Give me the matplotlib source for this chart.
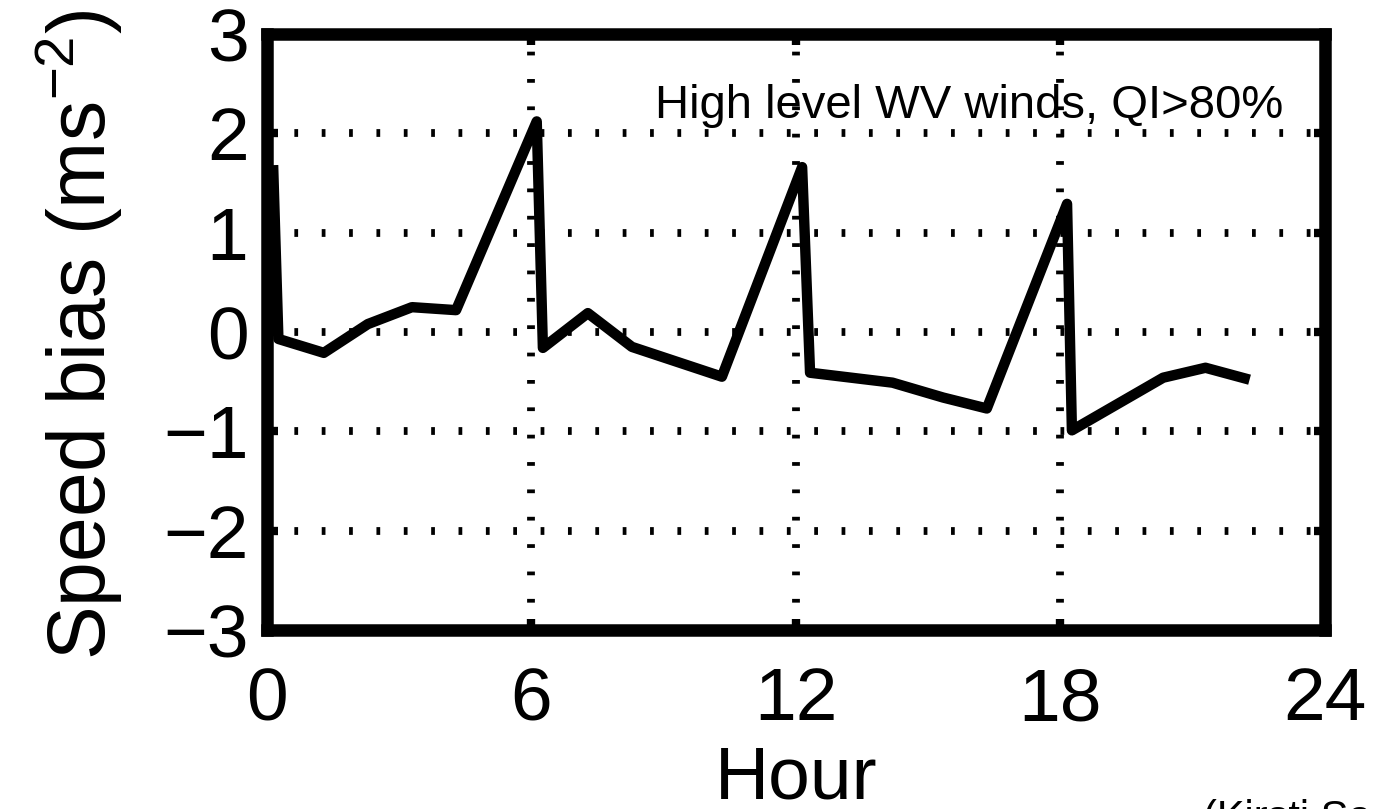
import matplotlib
matplotlib.use("Agg")
import matplotlib.pyplot as plt

# ---- data ----
hours = [0.15, 0.27, 1.3, 2.3, 3.3, 4.3, 6.13, 6.27, 7.29, 8.29, 10.33,
         12.15, 12.33, 14.2, 15.35, 16.34, 18.16, 18.27, 20.34, 21.3, 22.3]
bias = [1.68, -0.07, -0.21, 0.08, 0.25, 0.22, 2.12, -0.16, 0.19, -0.15, -0.45,
        1.66, -0.41, -0.51, -0.66, -0.77, 1.29, -0.99, -0.46, -0.36, -0.48]
xticks = [0, 6, 12, 18, 24]
yticks = [-3, -2, -1, 0, 1, 2, 3]
annotation = "High level WV winds, QI>80%"
credit = "(Kirsti Salonen)"

plt.rcParams['font.family'] = ['Liberation Sans', 'DejaVu Sans']
plt.rcParams['mathtext.fontset'] = 'custom'
plt.rcParams['mathtext.rm'] = 'Liberation Sans'
plt.rcParams['mathtext.it'] = 'Liberation Sans:italic'
plt.rcParams['mathtext.bf'] = 'Liberation Sans:bold'
plt.rcParams['lines.scale_dashes'] = False

W, H = 1373, 809
fig = plt.figure(figsize=(W / 100, H / 100), dpi=100)
ax = fig.add_axes([266.5 / W, 1 - 630 / H, 1058 / W, 596 / H])

ax.plot(hours, bias, color='black', linewidth=7.5,
        solid_joinstyle='round', solid_capstyle='butt', zorder=3)

ax.set_xlim(0, 24)
ax.set_ylim(-3, 3)
ax.set_xticks(xticks)
ax.set_yticks(yticks)

ax.grid(True, color='black', linewidth=5.6, linestyle=(0, (2.7, 17.0)))
ax.set_axisbelow(True)

for s in ax.spines.values():
    s.set_linewidth(9)
    s.set_zorder(4)

ax.tick_params(direction='in', length=8, width=6, top=True, right=True,
               labelsize=54, color='black')
ax.tick_params(axis='x', pad=26)
ax.tick_params(axis='y', pad=13)

ax.set_xlabel("Hour", fontsize=54, va='baseline')
ax.xaxis.set_label_coords(0.5005, -0.2819)
ax.set_ylabel("Speed bias (ms$^{-2}$)", fontsize=58)
ax.yaxis.set_label_coords(-0.1347, 0.495)

ax.text(0.367, 0.859, annotation, transform=ax.transAxes, fontsize=34,
        ha='left', va='baseline')

fig.text(1203 / W, 1 - 830 / H, credit, fontsize=30, ha='left', va='baseline')

fig.savefig("out.png", dpi=100)
